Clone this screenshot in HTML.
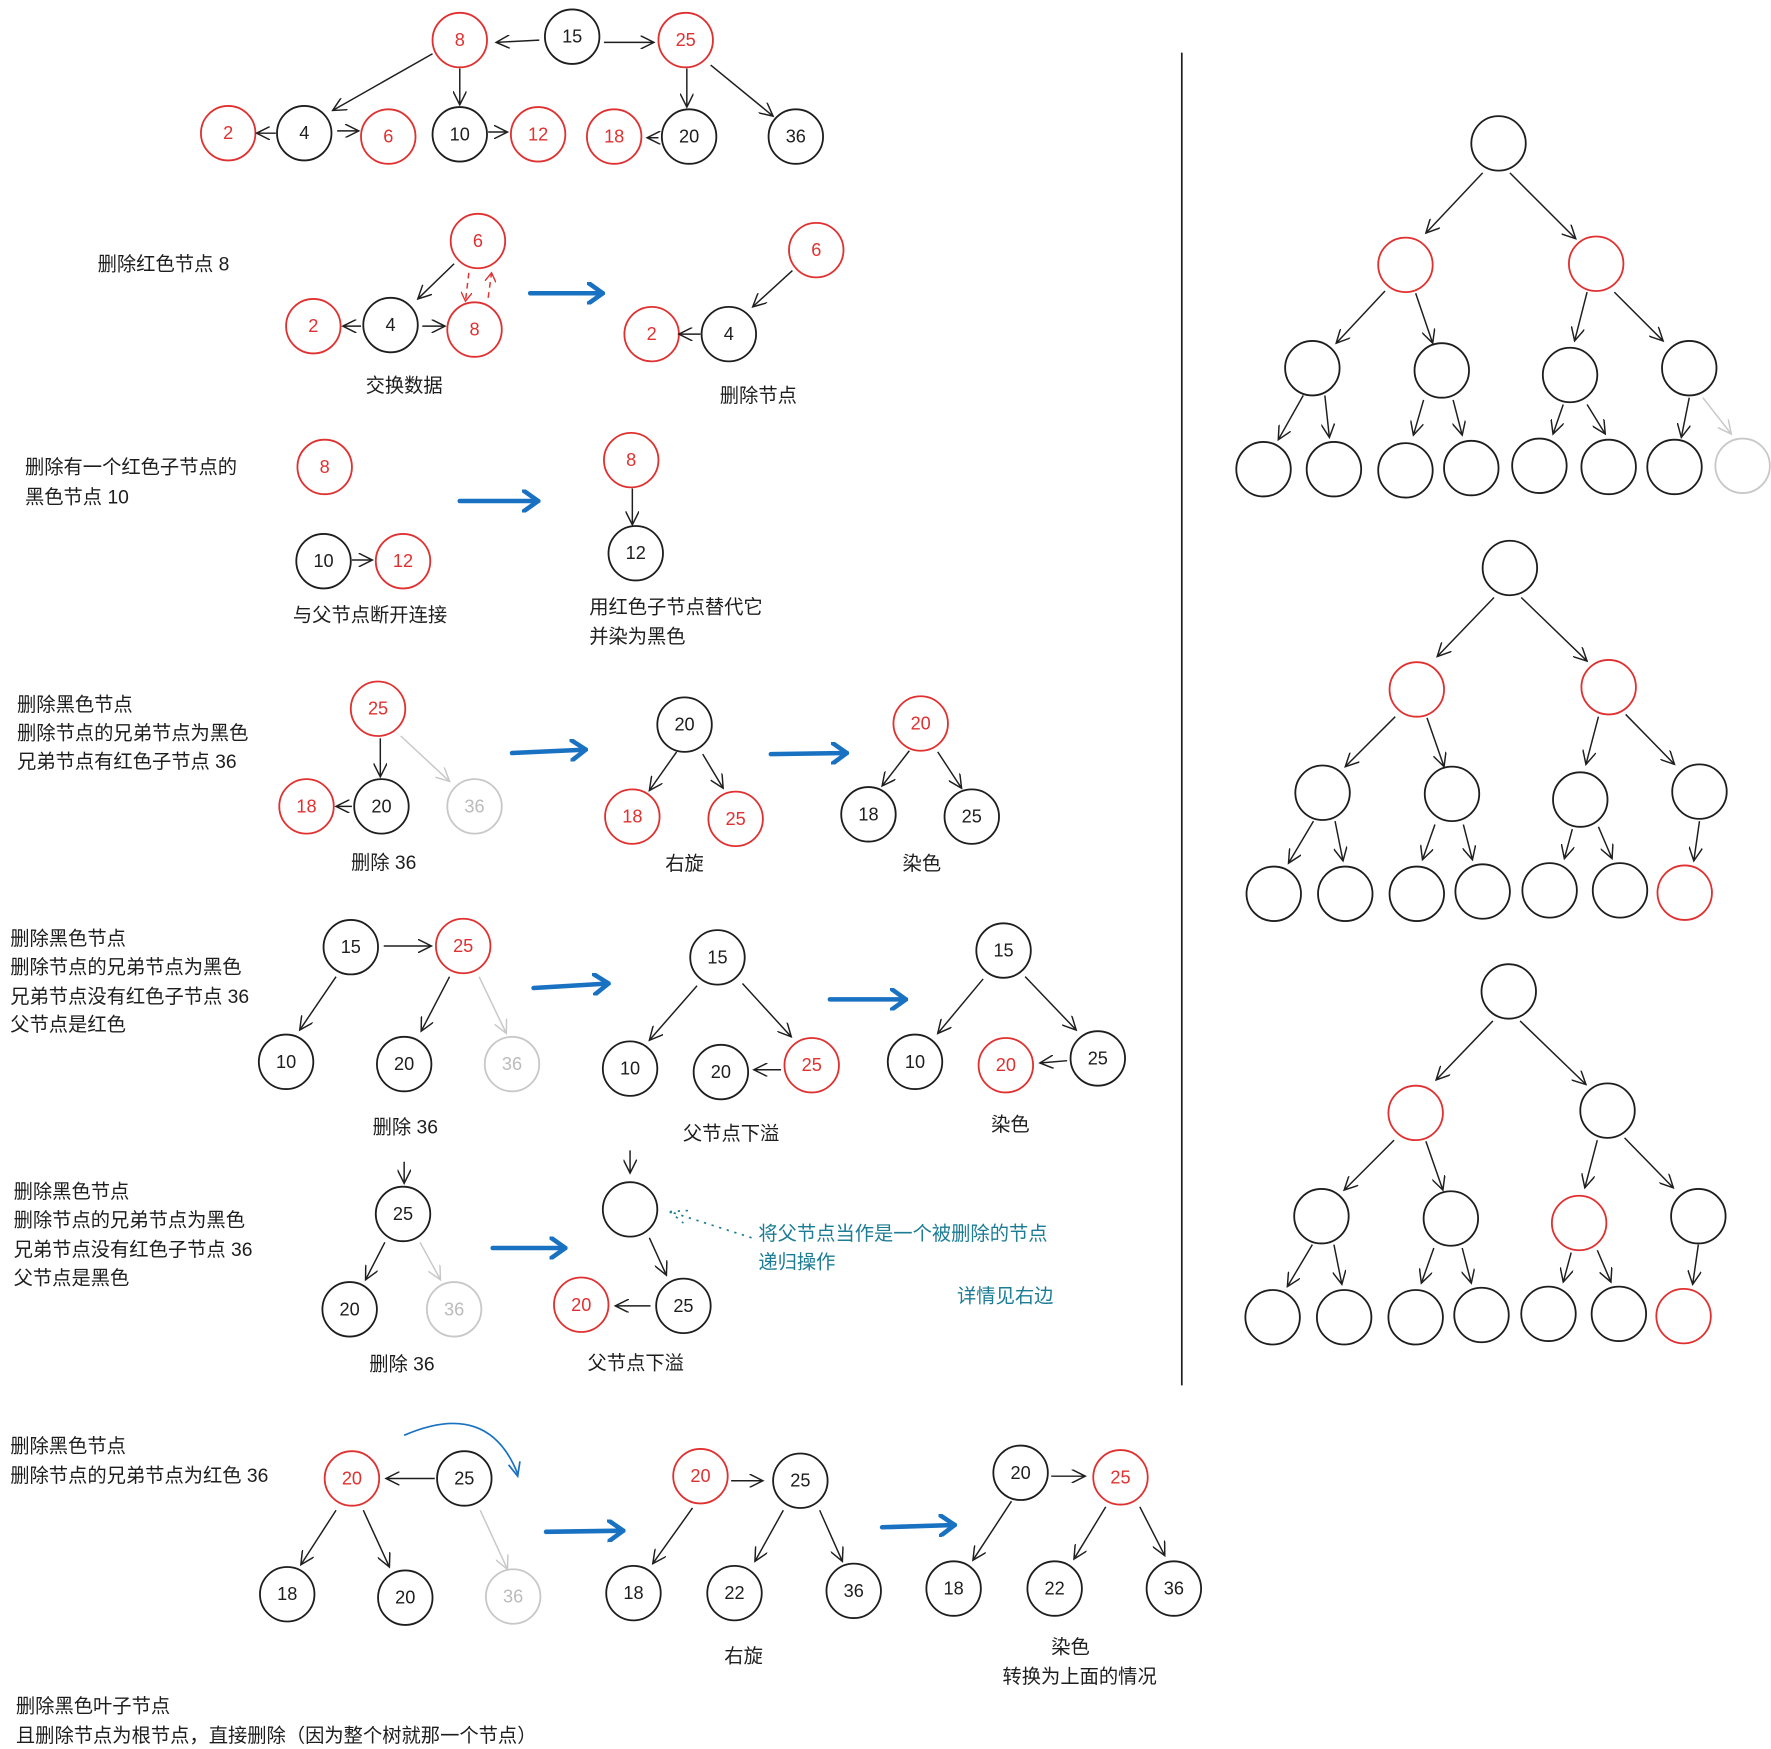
<!DOCTYPE html>
<html><head><meta charset="utf-8"><style>
html,body{margin:0;padding:0;background:#fff;}
svg{display:block}
text{font-family:"Liberation Sans","Noto Sans CJK SC",sans-serif;}
.l{font-size:17px;fill:#1e1e1e}
.n{font-size:16px;text-anchor:middle;dominant-baseline:central;fill:#1e1e1e}
.nr{font-size:16px;text-anchor:middle;dominant-baseline:central;fill:#e03131}
.ng{font-size:16px;text-anchor:middle;dominant-baseline:central;fill:#bbb}
.c{fill:none;stroke:#1e1e1e;stroke-width:1.6}
.cr{fill:none;stroke:#e03131;stroke-width:1.6}
.cg{fill:none;stroke:#c8c8c8;stroke-width:1.6}
.a{stroke:#1e1e1e;stroke-width:1.3;fill:none;marker-end:url(#m)}
.ag{stroke:#c8c8c8;stroke-width:1.3;fill:none;marker-end:url(#mg)}
.ab{stroke:#1971c2;stroke-width:4;fill:none;marker-end:url(#mb);stroke-linecap:round}
.t{font-size:17px;fill:#1c7c94}
</style></head><body>
<svg width="1771" height="1749" viewBox="0 0 1560 1540" xmlns="http://www.w3.org/2000/svg">
<defs>
<marker id="m" markerWidth="14" markerHeight="12" refX="12" refY="6" orient="auto" markerUnits="userSpaceOnUse"><path d="M0,0 L12,6 L0,12" fill="none" stroke="#1e1e1e" stroke-width="1.3"/></marker>
<marker id="mg" markerWidth="14" markerHeight="12" refX="12" refY="6" orient="auto" markerUnits="userSpaceOnUse"><path d="M0,0 L12,6 L0,12" fill="none" stroke="#c8c8c8" stroke-width="1.3"/></marker>
<marker id="mb" markerWidth="16" markerHeight="20" refX="14" refY="10" orient="auto" markerUnits="userSpaceOnUse"><path d="M0,0 L14,10 L0,20" fill="none" stroke="#1971c2" stroke-width="4" stroke-linecap="round"/></marker>
<marker id="mr" markerWidth="10" markerHeight="10" refX="8" refY="5" orient="auto" markerUnits="userSpaceOnUse"><path d="M0,0 L8,5 L0,10" fill="none" stroke="#e03131" stroke-width="1.2"/></marker>
</defs>

<!-- Section 1 -->
<circle class="cr" cx="405" cy="35" r="24"/><text class="nr" x="405" y="35">8</text>
<circle class="c" cx="504" cy="32" r="24"/><text class="n" x="504" y="32">15</text>
<circle class="cr" cx="604" cy="35" r="24"/><text class="nr" x="604" y="35">25</text>
<circle class="cr" cx="201" cy="117" r="24"/><text class="nr" x="201" y="117">2</text>
<circle class="c" cx="268" cy="117" r="24"/><text class="n" x="268" y="117">4</text>
<circle class="cr" cx="342" cy="120" r="24"/><text class="nr" x="342" y="120">6</text>
<circle class="c" cx="405" cy="118" r="24"/><text class="n" x="405" y="118">10</text>
<circle class="cr" cx="474" cy="118" r="24"/><text class="nr" x="474" y="118">12</text>
<circle class="cr" cx="541" cy="120" r="24"/><text class="nr" x="541" y="120">18</text>
<circle class="c" cx="607" cy="120" r="24"/><text class="n" x="607" y="120">20</text>
<circle class="c" cx="701" cy="120" r="24"/><text class="n" x="701" y="120">36</text>
<path class="a" d="M475,35 L437,37"/><path class="a" d="M532,37 L576,37"/>
<path class="a" d="M381,47 L293,97"/><path class="a" d="M405,60 L405,92"/>
<path class="a" d="M605,60 L605,94"/><path class="a" d="M626,57 L681,102"/>
<path class="a" d="M243,117 L226,117"/><path class="a" d="M297,115 L316,115"/>
<path class="a" d="M430,116 L447,116"/><path class="a" d="M580,121 L570,121"/>

<!-- Section 2 -->
<text class="l" x="86" y="238">删除红色节点  8</text>
<circle class="cr" cx="421" cy="212" r="24"/><text class="nr" x="421" y="212">6</text>
<circle class="cr" cx="276" cy="287" r="24"/><text class="nr" x="276" y="287">2</text>
<circle class="c" cx="344" cy="286" r="24"/><text class="n" x="344" y="286">4</text>
<circle class="cr" cx="418" cy="290" r="24"/><text class="nr" x="418" y="290">8</text>
<path class="a" d="M400,232 L368,263"/><path class="a" d="M318,287 L302,287"/><path class="a" d="M372,287 L392,287"/>
<path d="M413,240 L410,265" stroke="#e03131" stroke-width="1.3" stroke-dasharray="5,4" fill="none" marker-end="url(#mr)"/>
<path d="M430,262 L433,240" stroke="#e03131" stroke-width="1.3" stroke-dasharray="5,4" fill="none" marker-end="url(#mr)"/>
<text class="l" x="356" y="345" text-anchor="middle">交换数据</text>
<path class="ab" d="M467,258 L531,258"/>
<circle class="cr" cx="719" cy="220" r="24"/><text class="nr" x="719" y="220">6</text>
<circle class="cr" cx="574" cy="294" r="24"/><text class="nr" x="574" y="294">2</text>
<circle class="c" cx="642" cy="294" r="24"/><text class="n" x="642" y="294">4</text>
<path class="a" d="M698,238 L663,270"/><path class="a" d="M617,294 L598,294"/>
<text class="l" x="668" y="354" text-anchor="middle">删除节点</text>

<!-- Section 3 -->
<text class="l" x="22" y="417">删除有一个红色子节点的</text>
<text class="l" x="22" y="443">黑色节点  10</text>
<circle class="cr" cx="286" cy="411" r="24"/><text class="nr" x="286" y="411">8</text>
<circle class="c" cx="285" cy="494" r="24"/><text class="n" x="285" y="494">10</text>
<circle class="cr" cx="355" cy="494" r="24"/><text class="nr" x="355" y="494">12</text>
<path class="a" d="M310,493 L328,493"/>
<text class="l" x="258" y="547">与父节点断开连接</text>
<path class="ab" d="M405,441 L474,441"/>
<circle class="cr" cx="556" cy="405" r="24"/><text class="nr" x="556" y="405">8</text>
<circle class="c" cx="560" cy="487" r="24"/><text class="n" x="560" y="487">12</text>
<path class="a" d="M557,430 L557,462"/>
<text class="l" x="519" y="540">用红色子节点替代它</text>
<text class="l" x="519" y="566">并染为黑色</text>

<!-- Section 4 -->
<text class="l" x="15" y="626">删除黑色节点</text>
<text class="l" x="15" y="651">删除节点的兄弟节点为黑色</text>
<text class="l" x="15" y="676">兄弟节点有红色子节点  36</text>
<circle class="cr" cx="333" cy="624" r="24"/><text class="nr" x="333" y="624">25</text>
<circle class="cr" cx="270" cy="710" r="24"/><text class="nr" x="270" y="710">18</text>
<circle class="c" cx="336" cy="710" r="24"/><text class="n" x="336" y="710">20</text>
<circle class="cg" cx="418" cy="710" r="24"/><text class="ng" x="418" y="710">36</text>
<path class="a" d="M335,650 L335,684"/><path class="ag" d="M353,648 L396,688"/><path class="a" d="M310,710 L296,710"/>
<text class="l" x="338" y="765" text-anchor="middle">删除  36</text>
<path class="ab" d="M451,663 L516,660"/>
<circle class="c" cx="603" cy="638" r="24"/><text class="n" x="603" y="638">20</text>
<circle class="cr" cx="557" cy="719" r="24"/><text class="nr" x="557" y="719">18</text>
<circle class="cr" cx="648" cy="721" r="24"/><text class="nr" x="648" y="721">25</text>
<path class="a" d="M596,662 L572,696"/><path class="a" d="M619,664 L637,694"/>
<text class="l" x="603" y="766" text-anchor="middle">右旋</text>
<path class="ab" d="M679,664 L746,663"/>
<circle class="cr" cx="811" cy="637" r="24"/><text class="nr" x="811" y="637">20</text>
<circle class="c" cx="765" cy="717" r="24"/><text class="n" x="765" y="717">18</text>
<circle class="c" cx="856" cy="719" r="24"/><text class="n" x="856" y="719">25</text>
<path class="a" d="M801,661 L777,692"/><path class="a" d="M826,662 L847,694"/>
<text class="l" x="812" y="766" text-anchor="middle">染色</text>

<!-- Section 5 -->
<text class="l" x="9" y="832">删除黑色节点</text>
<text class="l" x="9" y="857">删除节点的兄弟节点为黑色</text>
<text class="l" x="9" y="883">兄弟节点没有红色子节点  36</text>
<text class="l" x="9" y="908">父节点是红色</text>
<circle class="c" cx="309" cy="834" r="24"/><text class="n" x="309" y="834">15</text>
<circle class="cr" cx="408" cy="833" r="24"/><text class="nr" x="408" y="833">25</text>
<circle class="c" cx="252" cy="935" r="24"/><text class="n" x="252" y="935">10</text>
<circle class="c" cx="356" cy="937" r="24"/><text class="n" x="356" y="937">20</text>
<circle class="cg" cx="451" cy="937" r="24"/><text class="ng" x="451" y="937">36</text>
<path class="a" d="M338,833 L380,833"/><path class="a" d="M296,860 L264,907"/><path class="a" d="M396,860 L371,908"/><path class="ag" d="M422,860 L446,910"/>
<text class="l" x="357" y="998" text-anchor="middle">删除  36</text>
<path class="ab" d="M470,870 L536,866"/>
<circle class="c" cx="632" cy="843" r="24"/><text class="n" x="632" y="843">15</text>
<circle class="c" cx="555" cy="941" r="24"/><text class="n" x="555" y="941">10</text>
<circle class="c" cx="635" cy="944" r="24"/><text class="n" x="635" y="944">20</text>
<circle class="cr" cx="715" cy="938" r="24"/><text class="nr" x="715" y="938">25</text>
<path class="a" d="M614,868 L572,916"/><path class="a" d="M654,866 L697,913"/><path class="a" d="M688,942 L664,942"/>
<text class="l" x="644" y="1004" text-anchor="middle">父节点下溢</text>
<path class="ab" d="M731,880 L798,880"/>
<circle class="c" cx="884" cy="837" r="24"/><text class="n" x="884" y="837">15</text>
<circle class="c" cx="806" cy="935" r="24"/><text class="n" x="806" y="935">10</text>
<circle class="cr" cx="886" cy="938" r="24"/><text class="nr" x="886" y="938">20</text>
<circle class="c" cx="967" cy="932" r="24"/><text class="n" x="967" y="932">25</text>
<path class="a" d="M866,862 L826,910"/><path class="a" d="M903,860 L948,907"/><path class="a" d="M940,934 L916,936"/>
<text class="l" x="890" y="996" text-anchor="middle">染色</text>

<!-- Section 6 -->
<text class="l" x="12" y="1055">删除黑色节点</text>
<text class="l" x="12" y="1080">删除节点的兄弟节点为黑色</text>
<text class="l" x="12" y="1106">兄弟节点没有红色子节点  36</text>
<text class="l" x="12" y="1131">父节点是黑色</text>
<path class="a" d="M356,1023 L356,1042"/>
<circle class="c" cx="355" cy="1069" r="24"/><text class="n" x="355" y="1069">25</text>
<circle class="c" cx="308" cy="1153" r="24"/><text class="n" x="308" y="1153">20</text>
<circle class="cg" cx="400" cy="1153" r="24"/><text class="ng" x="400" y="1153">36</text>
<path class="a" d="M339,1094 L322,1127"/><path class="ag" d="M370,1094 L388,1127"/>
<text class="l" x="354" y="1207" text-anchor="middle">删除  36</text>
<path class="ab" d="M434,1099 L498,1099"/>
<path class="a" d="M555,1013 L555,1033"/>
<circle class="c" cx="555" cy="1065" r="24"/>
<path class="a" d="M572,1090 L587,1123"/>
<circle class="cr" cx="512" cy="1149" r="24"/><text class="nr" x="512" y="1149">20</text>
<circle class="c" cx="602" cy="1150" r="24"/><text class="n" x="602" y="1150">25</text>
<path class="a" d="M573,1150 L542,1150"/>
<text class="l" x="560" y="1206" text-anchor="middle">父节点下溢</text>
<path d="M662,1090 L590,1067 M590,1067 L606,1066 M590,1067 L602,1077" stroke="#1c7c94" stroke-width="1.5" stroke-dasharray="2,5" fill="none"/>
<text class="t" x="668" y="1092">将父节点当作是一个被删除的节点</text>
<text class="t" x="668" y="1117">递归操作</text>
<text class="t" x="843" y="1147">详情见右边</text>

<!-- Section 7 -->
<text class="l" x="9" y="1279">删除黑色节点</text>
<text class="l" x="9" y="1305">删除节点的兄弟节点为红色  36</text>
<circle class="cr" cx="310" cy="1302" r="24"/><text class="nr" x="310" y="1302">20</text>
<circle class="c" cx="409" cy="1302" r="24"/><text class="n" x="409" y="1302">25</text>
<circle class="c" cx="253" cy="1404" r="24"/><text class="n" x="253" y="1404">18</text>
<circle class="c" cx="357" cy="1407" r="24"/><text class="n" x="357" y="1407">20</text>
<circle class="cg" cx="452" cy="1406" r="24"/><text class="ng" x="452" y="1406">36</text>
<path class="a" d="M383,1302 L340,1302"/><path class="a" d="M296,1330 L265,1378"/><path class="a" d="M320,1330 L343,1380"/><path class="ag" d="M423,1330 L447,1382"/>
<path d="M356,1264 Q430,1232 456,1298" stroke="#1971c2" stroke-width="1.5" fill="none"/>
<path d="M448,1290 L456,1300 L458,1287" stroke="#1971c2" stroke-width="1.5" fill="none"/>
<path class="ab" d="M481,1349 L549,1348"/>
<circle class="cr" cx="617" cy="1300" r="24"/><text class="nr" x="617" y="1300">20</text>
<circle class="c" cx="705" cy="1304" r="24"/><text class="n" x="705" y="1304">25</text>
<circle class="c" cx="558" cy="1403" r="24"/><text class="n" x="558" y="1403">18</text>
<circle class="c" cx="647" cy="1403" r="24"/><text class="n" x="647" y="1403">22</text>
<circle class="c" cx="752" cy="1401" r="24"/><text class="n" x="752" y="1401">36</text>
<path class="a" d="M644,1304 L672,1304"/><path class="a" d="M610,1328 L575,1377"/><path class="a" d="M690,1330 L665,1375"/><path class="a" d="M722,1330 L742,1375"/>
<text class="l" x="655" y="1464" text-anchor="middle">右旋</text>
<path class="ab" d="M777,1345 L841,1343"/>
<circle class="c" cx="899" cy="1297" r="24"/><text class="n" x="899" y="1297">20</text>
<circle class="cr" cx="987" cy="1301" r="24"/><text class="nr" x="987" y="1301">25</text>
<circle class="c" cx="840" cy="1399" r="24"/><text class="n" x="840" y="1399">18</text>
<circle class="c" cx="929" cy="1399" r="24"/><text class="n" x="929" y="1399">22</text>
<circle class="c" cx="1034" cy="1399" r="24"/><text class="n" x="1034" y="1399">36</text>
<path class="a" d="M926,1300 L956,1300"/><path class="a" d="M891,1322 L857,1374"/><path class="a" d="M974,1327 L946,1373"/><path class="a" d="M1004,1327 L1026,1370"/>
<text class="l" x="943" y="1456" text-anchor="middle">染色</text>
<text class="l" x="951" y="1482" text-anchor="middle">转换为上面的情况</text>

<!-- Section 8 -->
<text class="l" x="14" y="1508">删除黑色叶子节点</text>
<text class="l" x="14" y="1534">且删除节点为根节点，直接删除（因为整个树就那一个节点）</text>

<!-- divider -->
<path d="M1041,46 L1041,1220" stroke="#1e1e1e" stroke-width="1.5"/>

<!-- Tree 1 -->
<g>
<circle class="c" cx="1320" cy="126" r="24"/>
<circle class="cr" cx="1238" cy="233" r="24"/><circle class="cr" cx="1406" cy="232" r="24"/>
<circle class="c" cx="1156" cy="324" r="24"/><circle class="c" cx="1270" cy="326" r="24"/><circle class="c" cx="1383" cy="330" r="24"/><circle class="c" cx="1488" cy="324" r="24"/>
<circle class="c" cx="1113" cy="413" r="24"/><circle class="c" cx="1175" cy="413" r="24"/><circle class="c" cx="1238" cy="414" r="24"/><circle class="c" cx="1296" cy="412" r="24"/><circle class="c" cx="1356" cy="410" r="24"/><circle class="c" cx="1417" cy="411" r="24"/><circle class="c" cx="1475" cy="411" r="24"/><circle class="cg" cx="1535" cy="410" r="24"/>
<path class="a" d="M1306,152 L1256,205"/><path class="a" d="M1330,152 L1388,210"/>
<path class="a" d="M1220,256 L1177,302"/><path class="a" d="M1247,258 L1262,302"/><path class="a" d="M1398,257 L1387,300"/><path class="a" d="M1422,257 L1465,300"/>
<path class="a" d="M1148,348 L1126,387"/><path class="a" d="M1167,348 L1171,385"/><path class="a" d="M1254,352 L1245,383"/><path class="a" d="M1280,352 L1288,383"/><path class="a" d="M1377,356 L1368,382"/><path class="a" d="M1398,356 L1414,382"/><path class="a" d="M1488,350 L1481,385"/><path class="ag" d="M1500,350 L1525,382"/>
</g>
<!-- Tree 2 -->
<g>
<circle class="c" cx="1330" cy="500" r="24"/>
<circle class="cr" cx="1248" cy="607" r="24"/><circle class="cr" cx="1417" cy="605" r="24"/>
<circle class="c" cx="1165" cy="698" r="24"/><circle class="c" cx="1279" cy="699" r="24"/><circle class="c" cx="1392" cy="704" r="24"/><circle class="c" cx="1497" cy="697" r="24"/>
<circle class="c" cx="1122" cy="787" r="24"/><circle class="c" cx="1185" cy="787" r="24"/><circle class="c" cx="1248" cy="787" r="24"/><circle class="c" cx="1306" cy="785" r="24"/><circle class="c" cx="1365" cy="784" r="24"/><circle class="c" cx="1427" cy="784" r="24"/><circle class="cr" cx="1484" cy="786" r="24"/>
<path class="a" d="M1316,526 L1266,578"/><path class="a" d="M1340,526 L1398,582"/>
<path class="a" d="M1229,631 L1185,675"/><path class="a" d="M1257,632 L1272,675"/><path class="a" d="M1408,631 L1397,673"/><path class="a" d="M1432,629 L1475,673"/>
<path class="a" d="M1157,723 L1135,760"/><path class="a" d="M1176,723 L1183,758"/><path class="a" d="M1264,726 L1253,757"/><path class="a" d="M1289,726 L1297,757"/><path class="a" d="M1385,730 L1378,756"/><path class="a" d="M1408,728 L1420,756"/><path class="a" d="M1497,723 L1492,758"/>
</g>
<!-- Tree 3 -->
<g>
<circle class="c" cx="1329" cy="873" r="24"/>
<circle class="cr" cx="1247" cy="980" r="24"/><circle class="c" cx="1416" cy="978" r="24"/>
<circle class="c" cx="1164" cy="1071" r="24"/><circle class="c" cx="1278" cy="1073" r="24"/><circle class="cr" cx="1391" cy="1077" r="24"/><circle class="c" cx="1496" cy="1071" r="24"/>
<circle class="c" cx="1121" cy="1160" r="24"/><circle class="c" cx="1184" cy="1160" r="24"/><circle class="c" cx="1247" cy="1160" r="24"/><circle class="c" cx="1305" cy="1158" r="24"/><circle class="c" cx="1364" cy="1157" r="24"/><circle class="c" cx="1426" cy="1157" r="24"/><circle class="cr" cx="1483" cy="1159" r="24"/>
<path class="a" d="M1315,899 L1265,951"/><path class="a" d="M1339,899 L1397,955"/>
<path class="a" d="M1228,1004 L1184,1048"/><path class="a" d="M1256,1005 L1271,1048"/><path class="a" d="M1407,1004 L1396,1046"/><path class="a" d="M1431,1002 L1474,1046"/>
<path class="a" d="M1156,1096 L1134,1133"/><path class="a" d="M1175,1096 L1182,1131"/><path class="a" d="M1263,1099 L1252,1130"/><path class="a" d="M1288,1099 L1296,1130"/><path class="a" d="M1384,1103 L1377,1129"/><path class="a" d="M1407,1101 L1419,1129"/><path class="a" d="M1496,1096 L1491,1131"/>
</g>
</svg>
</body></html>
